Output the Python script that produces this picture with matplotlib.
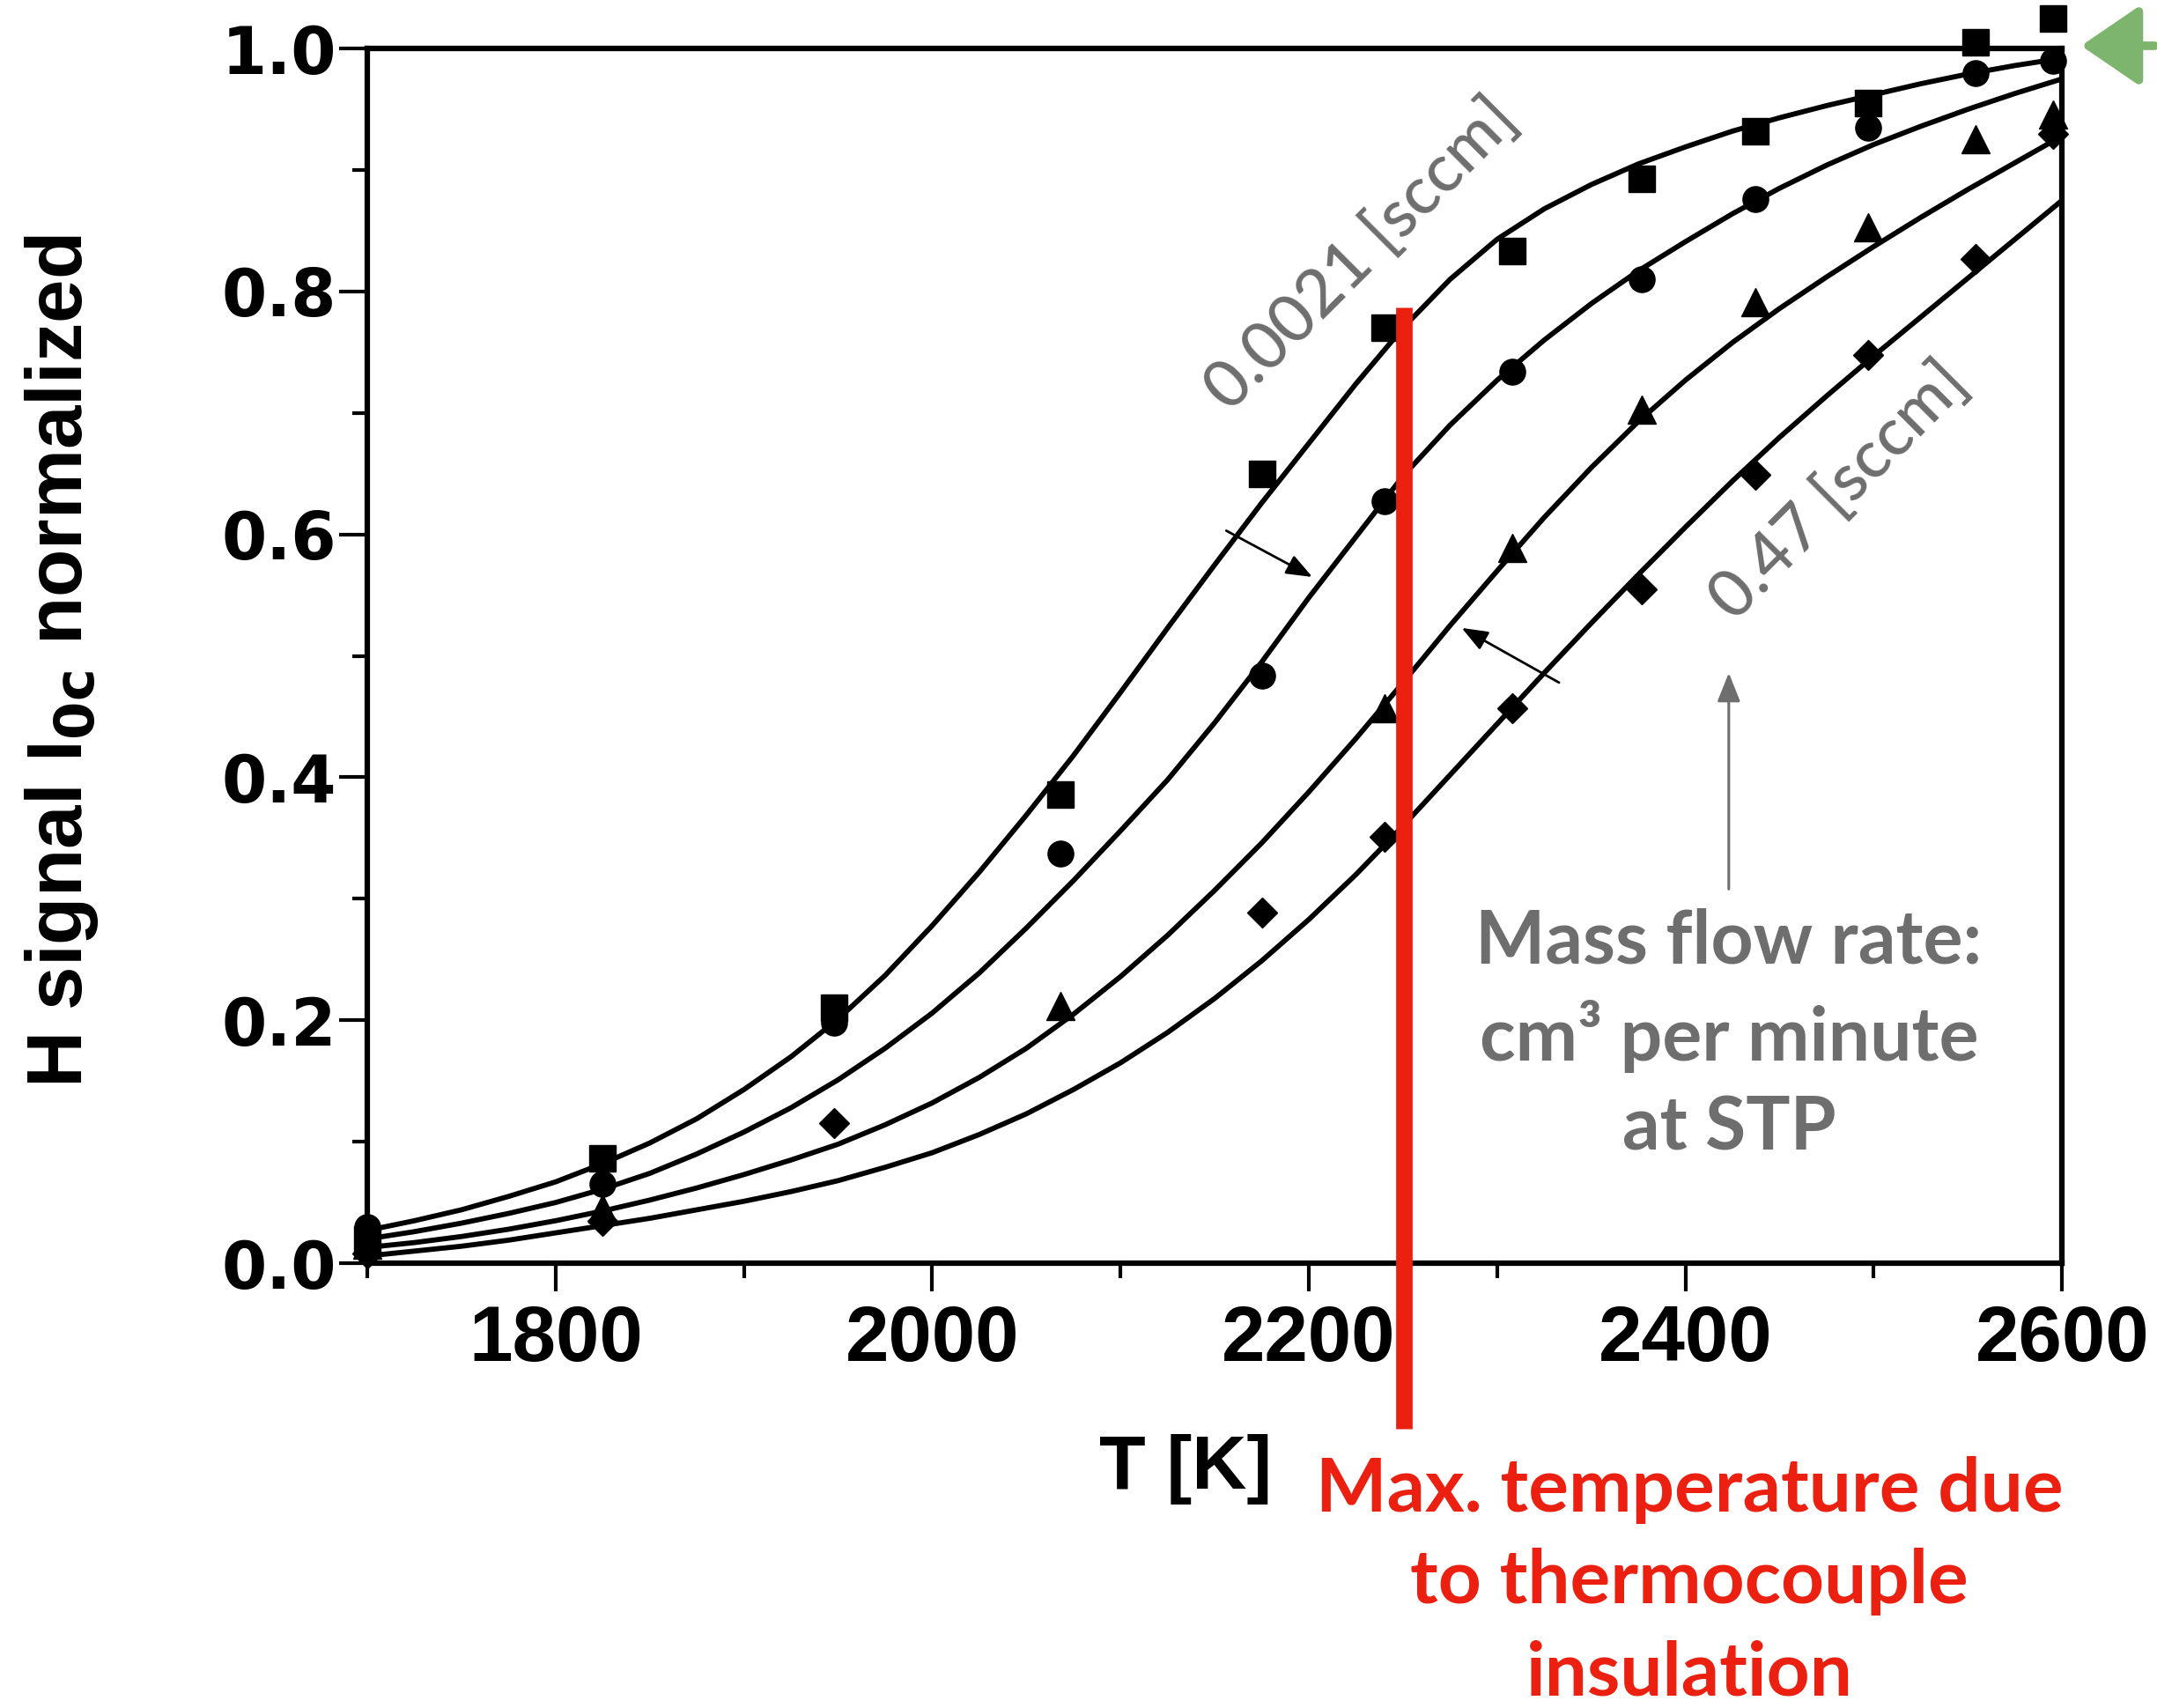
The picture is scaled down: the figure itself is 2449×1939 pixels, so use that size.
import matplotlib

matplotlib.use("Agg")
import matplotlib.pyplot as plt
from matplotlib.ticker import MultipleLocator

# fitted curves, every 25 K
T_GRID = [1700, 1725, 1750, 1775, 1800, 1825, 1850, 1875, 1900, 1925,
          1950, 1975, 2000, 2025, 2050, 2075, 2100, 2125, 2150, 2175,
          2200, 2225, 2250, 2275, 2300, 2325, 2350, 2375, 2400, 2425,
          2450, 2475, 2500, 2525, 2550, 2575, 2600]
CURVE_0021 = [0.027, 0.035, 0.044, 0.055, 0.067, 0.082, 0.099, 0.119, 0.143, 0.170,
              0.201, 0.237, 0.278, 0.322, 0.369, 0.418, 0.470, 0.523, 0.575, 0.626,
              0.675, 0.724, 0.770, 0.810, 0.843, 0.868, 0.888, 0.905, 0.919, 0.932,
              0.943, 0.953, 0.962, 0.971, 0.979, 0.986, 0.992]
CURVE_B = [0.020, 0.026, 0.033, 0.041, 0.050, 0.061, 0.074, 0.090, 0.108, 0.128,
           0.151, 0.177, 0.206, 0.239, 0.276, 0.315, 0.356, 0.398, 0.445, 0.495,
           0.548, 0.598, 0.648, 0.690, 0.727, 0.760, 0.790, 0.817, 0.841, 0.864,
           0.885, 0.904, 0.921, 0.936, 0.950, 0.963, 0.975]
CURVE_C = [0.013, 0.017, 0.022, 0.028, 0.035, 0.043, 0.052, 0.062, 0.073, 0.085,
           0.098, 0.114, 0.132, 0.153, 0.177, 0.205, 0.236, 0.270, 0.307, 0.346,
           0.388, 0.432, 0.478, 0.525, 0.570, 0.614, 0.655, 0.693, 0.727, 0.758,
           0.786, 0.812, 0.837, 0.861, 0.884, 0.906, 0.928]
CURVE_047 = [0.006, 0.010, 0.014, 0.019, 0.025, 0.031, 0.037, 0.044, 0.051, 0.059,
             0.068, 0.079, 0.091, 0.106, 0.123, 0.143, 0.165, 0.190, 0.218, 0.249,
             0.283, 0.320, 0.360, 0.402, 0.444, 0.486, 0.527, 0.567, 0.606, 0.644,
             0.680, 0.714, 0.747, 0.779, 0.811, 0.843, 0.875]

# measured points
SQ_T = [1700, 1825, 1948, 2068, 2175, 2240, 2308, 2377, 2437, 2497, 2554, 2595]
SQ_V = [0.020, 0.086, 0.210, 0.386, 0.650, 0.770, 0.833, 0.893, 0.932, 0.955, 1.005, 1.025]
CI_T = [1700, 1825, 1948, 2068, 2175, 2240, 2308, 2377, 2437, 2497, 2554, 2595]
CI_V = [0.030, 0.065, 0.198, 0.337, 0.484, 0.627, 0.734, 0.810, 0.876, 0.935, 0.980, 0.990]
TR_T = [1700, 1825, 2068, 2240, 2308, 2377, 2437, 2497, 2554, 2595]
TR_V = [0.015, 0.045, 0.212, 0.457, 0.589, 0.703, 0.791, 0.853, 0.925, 0.946]
DI_T = [1700, 1825, 1948, 2175, 2240, 2308, 2377, 2437, 2497, 2554, 2595]
DI_V = [0.008, 0.035, 0.115, 0.289, 0.351, 0.457, 0.555, 0.649, 0.748, 0.827, 0.930]

T_MAX = 2250.6  # thermocouple insulation limit

NARROW = ["Liberation Sans Narrow", "Liberation Sans", "DejaVu Sans"]
GRAY = "#6e6e6e"
RED = "#eb2010"
GREEN = "#7db56e"

plt.rcParams["mathtext.fontset"] = "custom"
plt.rcParams["mathtext.rm"] = "Liberation Sans Narrow:bold"
plt.rcParams["mathtext.it"] = "Liberation Sans Narrow:bold"
plt.rcParams["mathtext.bf"] = "Liberation Sans Narrow:bold"

fig = plt.figure(figsize=(24.49, 19.39), dpi=100)
ax = fig.add_axes([0.1703, 0.2604, 0.7857, 0.7112])

for curve in (CURVE_0021, CURVE_B, CURVE_C, CURVE_047):
    ax.plot(T_GRID, curve, color="black", lw=4.2, solid_joinstyle="round")

mk = dict(color="black", linestyle="none", clip_on=False, zorder=3)
ax.plot(SQ_T, SQ_V, marker="s", markersize=21, **mk)
ax.plot(CI_T, CI_V, marker="o", markersize=21, **mk)
ax.plot(TR_T, TR_V, marker="^", markersize=23, **mk)
ax.plot(DI_T, DI_V, marker="D", markersize=17, **mk)

# small arrows showing direction of increasing flow
ax.annotate("", xy=(2203, 0.564), xytext=(2155, 0.604),
            arrowprops=dict(arrowstyle="-|>,head_length=0.9,head_width=0.35",
                            mutation_scale=20, color="black", lw=2))
ax.annotate("", xy=(2280, 0.524), xytext=(2334, 0.477),
            arrowprops=dict(arrowstyle="-|>,head_length=0.9,head_width=0.35",
                            mutation_scale=20, color="black", lw=2))

ax.set_xlim(1700, 2600)
ax.set_ylim(0, 1.0)
ax.xaxis.set_minor_locator(MultipleLocator(100))
ax.yaxis.set_minor_locator(MultipleLocator(0.1))
ax.set_xticks([1800, 2000, 2200, 2400, 2600])
ax.set_yticks([0.0, 0.2, 0.4, 0.6, 0.8, 1.0])
ax.set_yticklabels(["0.0", "0.2", "0.4", "0.6", "0.8", "1.0"])

ax.tick_params(which="major", direction="out", length=23, width=3, colors="black")
ax.tick_params(which="minor", direction="out", length=12, width=3)
ax.tick_params(axis="y", which="major", pad=2)
ax.tick_params(axis="x", which="major", pad=10)
for lab in ax.get_xticklabels():
    lab.set_fontfamily(NARROW)
    lab.set_fontweight("bold")
    lab.set_fontsize(64)
for lab in ax.get_yticklabels():
    lab.set_fontfamily("DejaVu Sans")
    lab.set_fontweight("bold")
    lab.set_fontsize(53)
for side in ("left", "right", "top", "bottom"):
    ax.spines[side].set_linewidth(4.5)

fig.text(0.0286, 0.613, r"H signal I$_{\mathrm{0c}}$ normalized", rotation=90,
         ha="center", va="center", fontsize=64, fontweight="bold", family=NARROW)
fig.text(0.5496, 0.1398, "T [K]", ha="center", va="center",
         fontsize=62, fontweight="bold", family=NARROW)

# red limit line and note
ax.plot([T_MAX, T_MAX], [0.787, -0.136], color=RED, lw=13.5,
        solid_capstyle="butt", clip_on=False, zorder=4)
fig.text(0.7832, 0.0738, "Max. temperature due\nto thermocouple\ninsulation",
         ha="center", va="center", color=RED, fontsize=61.5, fontweight="bold",
         family="Lato", linespacing=1.43)

# grey flow-rate notes
fig.text(0.6313, 0.851, "0.0021 [sccm]", rotation=45, ha="center", va="center",
         color=GRAY, fontsize=54, family="Lato", fontweight="medium")
fig.text(0.8526, 0.7122, "0.47 [sccm]", rotation=45, ha="center", va="center",
         color=GRAY, fontsize=54, family="Lato", fontweight="medium")
fig.text(0.8016, 0.394, "Mass flow rate:\ncm\u00b3 per minute\nat STP",
         ha="center", va="center", color=GRAY, fontsize=60.5, family="Lato",
         fontweight="bold", linespacing=1.40)
ax.annotate("", xy=(2423, 0.488), xytext=(2423, 0.306),
            arrowprops=dict(arrowstyle="-|>,head_length=1.0,head_width=0.4",
                            mutation_scale=20, color=GRAY, lw=2.2))

# green marker arrow at the 1.0 level
fig.patches.append(matplotlib.patches.FancyArrowPatch(
    (1.0, 0.9732), (0.9637, 0.9732), transform=fig.transFigure,
    arrowstyle="-|>,head_length=0.41,head_width=0.28", mutation_scale=100,
    color=GREEN, lw=7))

fig.savefig("out.png", dpi=100, facecolor="white")
